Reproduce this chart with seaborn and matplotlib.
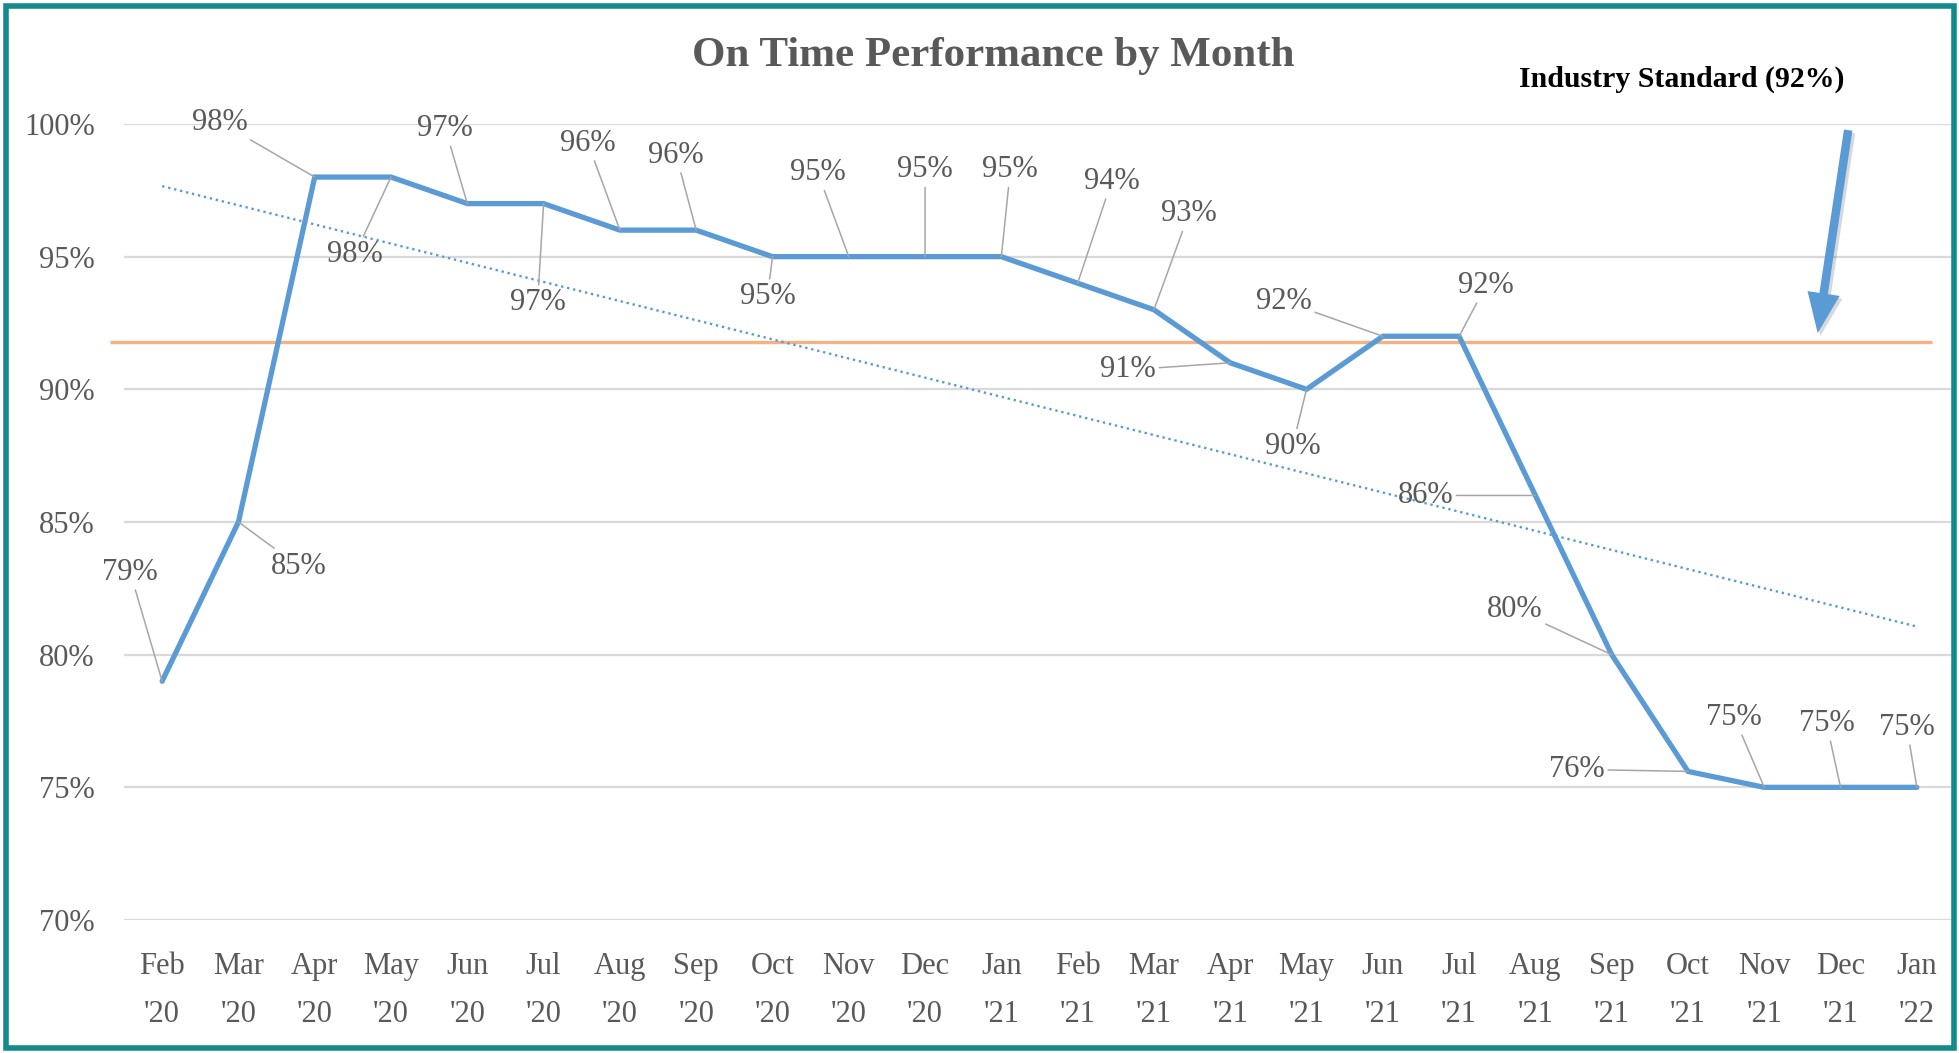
import numpy as np
import pandas as pd
import matplotlib
matplotlib.use("Agg")
import matplotlib.pyplot as plt
import matplotlib.patheffects as pe
from matplotlib.patches import Rectangle
import seaborn as sns

# data
months = ["Feb\n'20", "Mar\n'20", "Apr\n'20", "May\n'20", "Jun\n'20", "Jul\n'20",
          "Aug\n'20", "Sep\n'20", "Oct\n'20", "Nov\n'20", "Dec\n'20", "Jan\n'21",
          "Feb\n'21", "Mar\n'21", "Apr\n'21", "May\n'21", "Jun\n'21", "Jul\n'21",
          "Aug\n'21", "Sep\n'21", "Oct\n'21", "Nov\n'21", "Dec\n'21", "Jan\n'22"]
on_time = [0.79, 0.85, 0.98, 0.98, 0.97, 0.97, 0.96, 0.96, 0.95, 0.95, 0.95, 0.95,
           0.94, 0.93, 0.91, 0.90, 0.92, 0.92, 0.86, 0.80, 0.756, 0.75, 0.75, 0.75]
industry_standard = 0.918
standard_label = "Industry Standard (92%)"
title = "On Time Performance by Month"

# label offsets in pixels (dx, dy) from each point
label_offsets = [(-32, 109), (60, -44), (-95, 55), (-36, -77), (-22, 75), (-6, -99),
                 (-32, 87), (-20, 75), (-5, -40), (-31, 84), (0, 87), (9, 87),
                 (34, 102), (35, 96), (-102, -7), (-14, -57), (-99, 35), (27, 51),
                 (-110, 0), (-97, 45), (-111, 2), (-30, 70), (-14, 64), (-10, 60)]

df = pd.DataFrame({"idx": np.arange(len(months)), "month": months, "otp": on_time})

sns.set_style("white")
plt.rcParams['font.family'] = ['Liberation Serif', 'DejaVu Serif']

BLUE = "#5B9BD5"
ORANGE = "#F4B183"
GRAY_TXT = "#595959"
GRID = "#D9D9D9"
LEADER = "#A6A6A6"
TEAL = "#138A8C"

fig = plt.figure(figsize=(19.59, 10.53), dpi=100)
ax = fig.add_axes([124/1959, 1 - 920/1053, (1955-124)/1959, (920-124)/1053])

# gridlines
for g in np.arange(0.70, 1.001, 0.05):
    ax.axhline(g, color=GRID, lw=1.6, zorder=0)

# industry standard line
ax.hlines(industry_standard, -0.69, 23.2, color=ORANGE, lw=2.4, zorder=2, clip_on=False)

# trend line
sns.regplot(data=df, x="idx", y="otp", scatter=False, ci=None, ax=ax,
            line_kws=dict(color=BLUE, lw=1.7, ls=(0, (1, 1.6)), zorder=3))

# main line
sns.lineplot(data=df, x="idx", y="otp", ax=ax, color=BLUE, lw=3.8, zorder=4,
             solid_joinstyle='miter')

# data labels with leader lines
for i, (v, off) in enumerate(zip(on_time, label_offsets)):
    ax.annotate(f"{round(v*100):.0f}%", xy=(i, v), xytext=off, textcoords='offset pixels',
                ha='center', va='center', fontsize=22, color=GRAY_TXT, zorder=5,
                arrowprops=dict(arrowstyle='-', color=LEADER, lw=1.1,
                                shrinkA=0, shrinkB=0))

# arrow pointing to standard line
ax.annotate("", xy=(21.70, 0.9212), xytext=(22.10, 0.9977),
            arrowprops=dict(arrowstyle='simple,head_width=1.3,head_length=1.6,tail_width=0.34',
                            fc=BLUE, ec='none', lw=0, mutation_scale=18,
                            shrinkA=0, shrinkB=0,
                            path_effects=[pe.SimplePatchShadow(offset=(2, -2), alpha=0.18),
                                          pe.Normal()]),
            annotation_clip=False, zorder=6)

ax.set_xlim(-0.5, len(months) - 0.5)
ax.set_ylim(0.70, 1.00)
ax.set_xticks(range(len(months)))
ax.set_xticklabels(months, fontsize=22, color=GRAY_TXT, linespacing=1.85)
ax.set_yticks(np.arange(0.70, 1.001, 0.05))
ax.set_yticklabels([f"{t}%" for t in range(70, 101, 5)], fontsize=22, color=GRAY_TXT)
ax.tick_params(axis='y', length=0, pad=21)
ax.tick_params(axis='x', length=0, pad=23)
ax.set_xlabel("")
ax.set_ylabel("")
sns.despine(ax=ax, left=True, bottom=True)

fig.text(993/1959, 1 - 56/1053, title, ha='center', va='center', fontsize=31,
         fontweight='bold', color=GRAY_TXT)
fig.text(1682/1959, 1 - 79/1053, standard_label, ha='center', va='center', fontsize=21.5,
         fontweight='bold', color='black')

# teal frame around the picture
fig.patches.append(Rectangle((5.5/1959, 5.5/1053), 1 - 11/1959, 1 - 11/1053,
                             transform=fig.transFigure, fill=False,
                             edgecolor=TEAL, lw=4))

fig.savefig("out.png", dpi=100)
